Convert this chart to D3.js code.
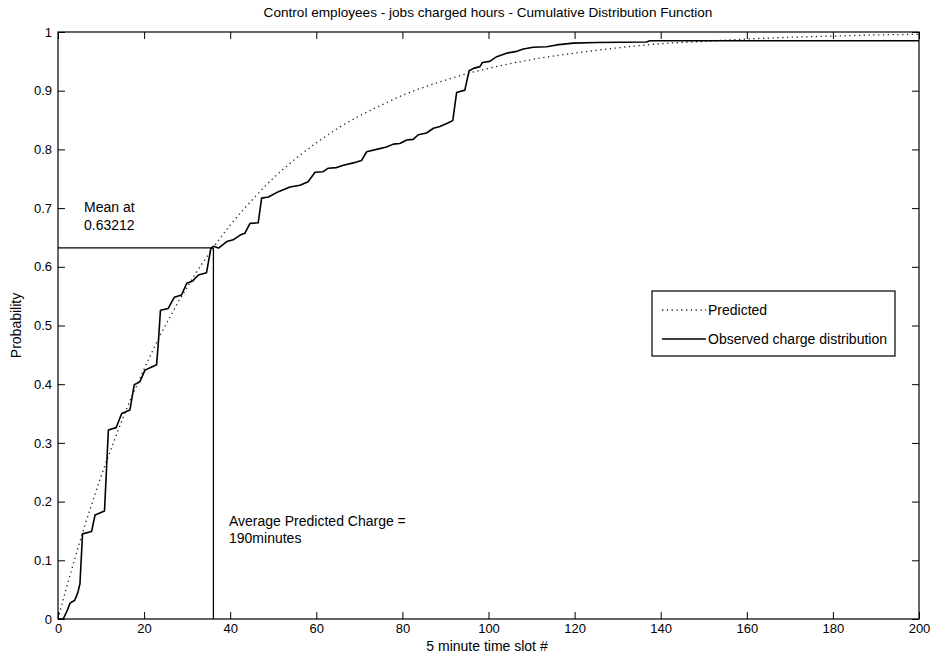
<!DOCTYPE html>
<html>
<head>
<meta charset="utf-8">
<script src="https://cdn.jsdelivr.net/npm/d3@7"></script>
<style>
  html, body { margin: 0; padding: 0; background: #fff; }
  svg { display: block; font-family: "Liberation Sans", Arial, sans-serif; }
</style>
</head>
<body>
<svg id="chart" width="932" height="657"></svg>
<script>
// ---- data ----
const title = "Control employees - jobs charged hours - Cumulative Distribution Function";
const xLabel = "5 minute time slot #";
const yLabel = "Probability";
const xTicks = [0, 20, 40, 60, 80, 100, 120, 140, 160, 180, 200];
const yTicks = [0, 0.1, 0.2, 0.3, 0.4, 0.5, 0.6, 0.7, 0.8, 0.9, 1];
const seriesNames = ["Predicted", "Observed charge distribution"];

// Predicted CDF (dotted)
const predictedX = [0, 2, 4, 6, 8, 10, 12, 14, 16, 18, 20, 22, 24, 26, 28, 30, 32, 34, 36, 40, 45, 50, 55, 60, 65, 70, 75, 80, 85, 90, 95, 100, 110, 120, 130, 140, 150, 160, 170, 180, 190, 200];
const predictedY = [0.0, 0.054, 0.105, 0.154, 0.199, 0.243, 0.283, 0.322, 0.359, 0.393, 0.426, 0.457, 0.487, 0.514, 0.541, 0.565, 0.589, 0.611, 0.632, 0.671, 0.713, 0.751, 0.783, 0.811, 0.836, 0.857, 0.875, 0.892, 0.906, 0.918, 0.929, 0.938, 0.953, 0.964, 0.973, 0.980, 0.984, 0.988, 0.991, 0.993, 0.995, 0.996];

// Observed charge distribution (solid)
const observedX = [0, 1.2, 2.0, 2.8, 3.9, 4.6, 5.1, 5.7, 7.8, 8.6, 10.8, 11.7, 13.5, 14.8, 16.7, 17.7, 19.0, 20.2, 21.4, 22.9, 23.3, 23.8, 25.6, 27.0, 28.7, 29.9, 31.3, 32.6, 34.5, 35.5, 36.1, 37.3, 39.2, 40.7, 42.3, 43.4, 44.6, 46.5, 47.3, 48.9, 51.2, 53.9, 56.2, 58.1, 59.7, 61.6, 62.8, 64.7, 66.3, 68.6, 70.5, 71.7, 74.0, 76.3, 77.9, 79.4, 81.0, 82.5, 83.7, 85.6, 87.2, 88.7, 90.3, 91.7, 92.6, 94.5, 95.5, 96.5, 98.0, 98.6, 100.3, 101.9, 104.2, 106.6, 108.1, 110.4, 113.5, 115.8, 119.7, 125.1, 136.7, 137.5, 200];
const observedY = [0, 0, 0.012, 0.027, 0.032, 0.045, 0.06, 0.145, 0.149, 0.177, 0.184, 0.322, 0.326, 0.350, 0.356, 0.399, 0.404, 0.424, 0.428, 0.433, 0.47, 0.526, 0.529, 0.548, 0.552, 0.572, 0.576, 0.586, 0.590, 0.631, 0.635, 0.632, 0.643, 0.646, 0.654, 0.657, 0.674, 0.675, 0.717, 0.719, 0.728, 0.736, 0.739, 0.745, 0.761, 0.762, 0.768, 0.769, 0.773, 0.777, 0.781, 0.796, 0.800, 0.804, 0.809, 0.810, 0.816, 0.817, 0.825, 0.828, 0.836, 0.839, 0.844, 0.849, 0.897, 0.901, 0.934, 0.938, 0.941, 0.948, 0.950, 0.958, 0.964, 0.967, 0.971, 0.974, 0.975, 0.978, 0.981, 0.982, 0.983, 0.985, 0.985];

// Mean marker
const meanSlot = 36.1;
const meanProb = 0.63212;
const meanText = ["Mean at", "0.63212"];
const chargeText = ["Average Predicted Charge =", "190minutes"];

// ---- drawing ----
const svg = d3.select("#chart");
const pL = 58, pR = 919, pT = 32, pB = 619;
const x = d3.scaleLinear().domain([0, 200]).range([pL, pR]);
const y = d3.scaleLinear().domain([0, 1]).range([pB, pT]);

const tickFmt = d => String(+d.toFixed(1));

// Axes with inward ticks
const axB = svg.append("g").attr("transform", `translate(0,${pB})`)
  .call(d3.axisBottom(x).tickValues(xTicks).tickSize(-7).tickPadding(5).tickFormat(d3.format("d")));
const axT = svg.append("g").attr("transform", `translate(0,${pT})`)
  .call(d3.axisTop(x).tickValues(xTicks).tickSize(-7).tickFormat(""));
const axL = svg.append("g").attr("transform", `translate(${pL},0)`)
  .call(d3.axisLeft(y).tickValues(yTicks).tickSize(-7).tickPadding(6).tickFormat(tickFmt));
const axR = svg.append("g").attr("transform", `translate(${pR},0)`)
  .call(d3.axisRight(y).tickValues(yTicks).tickSize(-7).tickFormat(""));
[axB, axT, axL, axR].forEach(a => {
  a.select(".domain").remove();
  a.selectAll("line").attr("stroke", "#000").attr("stroke-width", 1);
  a.selectAll("text").attr("fill", "#000").style("font-size", "13px").style("font-family", "Liberation Sans, Arial, sans-serif");
});

// Box
svg.append("rect").attr("x", pL).attr("y", pT)
  .attr("width", pR - pL).attr("height", pB - pT)
  .attr("fill", "none").attr("stroke", "#000").attr("stroke-width", 1.2);

// Predicted dotted line
const predData = predictedX.map((v, i) => [v, predictedY[i]]);
svg.append("path").datum(predData)
  .attr("fill", "none").attr("stroke", "#222").attr("stroke-width", 1.3)
  .attr("stroke-dasharray", "1.3,3.5")
  .attr("d", d3.line().x(d => x(d[0])).y(d => y(d[1])).curve(d3.curveMonotoneX));

// Observed solid line
const obsData = observedX.map((v, i) => [v, observedY[i]]);
svg.append("path").datum(obsData)
  .attr("fill", "none").attr("stroke", "#000").attr("stroke-width", 1.6)
  .attr("stroke-linejoin", "round")
  .attr("d", d3.line().x(d => x(d[0])).y(d => y(d[1])));

// Mean lines
svg.append("line").attr("x1", x(0)).attr("x2", x(meanSlot))
  .attr("y1", y(meanProb)).attr("y2", y(meanProb))
  .attr("stroke", "#000").attr("stroke-width", 1.3);
svg.append("line").attr("x1", x(meanSlot)).attr("x2", x(meanSlot))
  .attr("y1", y(0)).attr("y2", y(meanProb))
  .attr("stroke", "#000").attr("stroke-width", 1.3);

// Annotations
const annStyle = sel => sel.style("font-size", "14px").attr("fill", "#000");
svg.append("text").attr("x", 84).attr("y", 212).text(meanText[0]).call(annStyle);
svg.append("text").attr("x", 84).attr("y", 230).text(meanText[1]).call(annStyle);
svg.append("text").attr("x", 229).attr("y", 526).text(chargeText[0]).call(annStyle);
svg.append("text").attr("x", 229).attr("y", 543).text(chargeText[1]).call(annStyle);

// Title and axis labels
svg.append("text").attr("x", 488).attr("y", 17).attr("text-anchor", "middle")
  .style("font-size", "13.6px").text(title);
svg.append("text").attr("x", 487).attr("y", 651).attr("text-anchor", "middle")
  .style("font-size", "14px").text(xLabel);
svg.append("text").attr("transform", `translate(21,${(pT + pB) / 2}) rotate(-90)`)
  .attr("text-anchor", "middle").style("font-size", "14px").text(yLabel);

// Legend
const lg = svg.append("g");
lg.append("rect").attr("x", 652).attr("y", 291).attr("width", 243).attr("height", 65)
  .attr("fill", "#fff").attr("stroke", "#000").attr("stroke-width", 1.2);
const legY = [310, 339];
lg.append("line").attr("x1", 662).attr("x2", 706).attr("y1", legY[0]).attr("y2", legY[0])
  .attr("stroke", "#222").attr("stroke-width", 1.3).attr("stroke-dasharray", "1.3,3.5");
lg.append("line").attr("x1", 662).attr("x2", 706).attr("y1", legY[1]).attr("y2", legY[1])
  .attr("stroke", "#000").attr("stroke-width", 1.6);
seriesNames.forEach((n, i) => {
  lg.append("text").attr("x", 708).attr("y", legY[i]).attr("dy", "0.36em")
    .style("font-size", "14px").attr("fill", "#000").text(n);
});
</script>
</body>
</html>
